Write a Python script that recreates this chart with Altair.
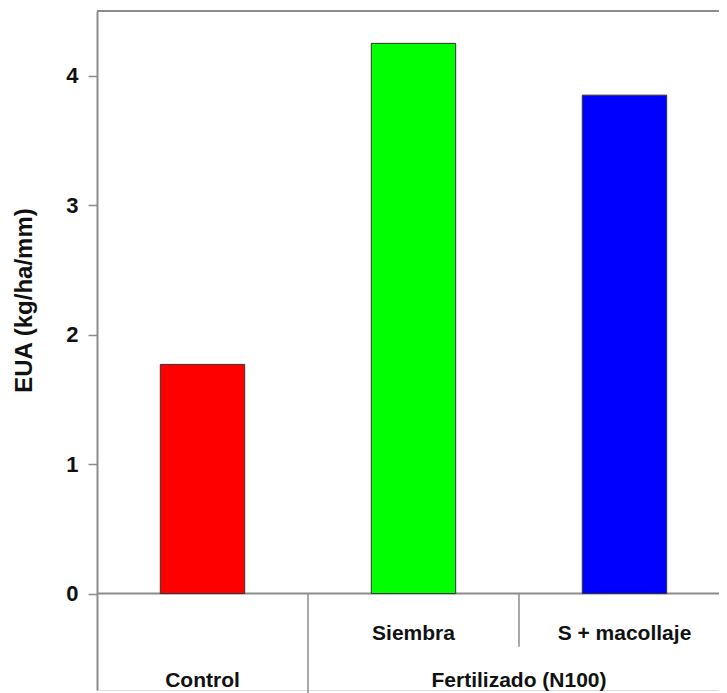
import altair as alt
import pandas as pd

# ---- data ----
categories = ["Control", "Siembra", "S + macollaje"]
values = [1.77, 4.25, 3.85]
bar_colors = ["#FF0000", "#00FF00", "#0000FF"]
sub_labels = ["", "Siembra", "S + macollaje"]
group_labels = ["Control", "Fertilizado (N100)"]
group_members = [[0], [1, 2]]
y_ticks = [0, 1, 2, 3, 4]

FONT = "Liberation Sans"
GRAY = "#8c8c8c"
X_MAX = 2.948
Y_MIN, Y_MAX = -0.745, 4.5

bars = pd.DataFrame({
    "cat": categories,
    "val": values,
    "idx": list(range(len(categories))),
})
subs = pd.DataFrame({"lab": sub_labels, "idx": list(range(len(categories)))})
subs = subs[subs["lab"] != ""]
groups = pd.DataFrame({
    "lab": group_labels,
    "pos": [sum(m) / len(m) + 0.5 for m in group_members],
})
# horizontal frame lines: top of frame and zero baseline
hlines = pd.DataFrame({"y": [Y_MAX, 0.0], "xa": [0.0, 0.0], "xb": [X_MAX, X_MAX]})
# vertical dividers under the axis
vlines = pd.DataFrame({"pos": [float(group_members[1][0]), float(group_members[1][1])],
                       "ya": [0.0, 0.0], "yb": [Y_MIN - 0.03, -0.41]})

W, H = 622, 679
xs = alt.Scale(domain=[0, X_MAX], nice=False, zero=False)
ys = alt.Scale(domain=[Y_MIN, Y_MAX], nice=False, zero=False)

yaxis = alt.Axis(values=y_ticks, title="EUA (kg/ha/mm)", grid=False,
                 domainColor=GRAY, domainWidth=2, tickColor=GRAY,
                 tickSize=9, tickWidth=1.5, labelFont=FONT,
                 labelFontSize=22, labelFontWeight="bold",
                 labelColor="#111111", labelPadding=10,
                 titleFont=FONT, titleFontSize=24,
                 titleFontWeight="bold", titleColor="#111111",
                 titleX=-73, titleY=289, titleAlign="center",
                 titleBaseline="middle", titleAngle=270)

bar_layer = alt.Chart(bars).transform_calculate(
    x1="datum.idx + 0.3", x2="datum.idx + 0.7", zero="0"
).mark_rect(stroke="#333333", strokeWidth=1).encode(
    x=alt.X("x1:Q", scale=xs, axis=None),
    x2="x2:Q",
    y=alt.Y("val:Q", scale=ys, axis=yaxis),
    y2="zero:Q",
    color=alt.Color("cat:N", scale=alt.Scale(domain=categories, range=bar_colors),
                    legend=None),
)

h_layer = alt.Chart(hlines).mark_rule(color=GRAY, strokeWidth=2).encode(
    x=alt.X("xa:Q", scale=xs, axis=None), x2="xb:Q",
    y=alt.Y("y:Q", scale=ys, axis=yaxis),
)
v_layer = alt.Chart(vlines).mark_rule(color=GRAY, strokeWidth=1.5).encode(
    x=alt.X("pos:Q", scale=xs, axis=None),
    y=alt.Y("ya:Q", scale=ys, axis=yaxis), y2="yb:Q",
)

subs = subs.assign(p=subs["idx"] + 0.5, yy=-0.36)
groups = groups.assign(yy=-0.718)

sub_text = alt.Chart(subs).mark_text(
    font=FONT, fontSize=21, fontWeight="bold", color="#111111",
    baseline="alphabetic", align="center"
).encode(x=alt.X("p:Q", scale=xs, axis=None),
         y=alt.Y("yy:Q", scale=ys, axis=yaxis), text="lab:N")
group_text = alt.Chart(groups).mark_text(
    font=FONT, fontSize=21, fontWeight="bold", color="#111111",
    baseline="alphabetic", align="center"
).encode(x=alt.X("pos:Q", scale=xs, axis=None),
         y=alt.Y("yy:Q", scale=ys, axis=yaxis), text="lab:N")

chart = alt.layer(
    h_layer, v_layer, bar_layer, sub_text, group_text
).properties(
    width=W, height=H, autosize="none",
    padding={"left": 89, "top": 3, "right": 0, "bottom": 3},
).configure_view(stroke=None).configure(background="white")

chart.save("out.html", embed_options={"renderer": "svg", "actions": False})
